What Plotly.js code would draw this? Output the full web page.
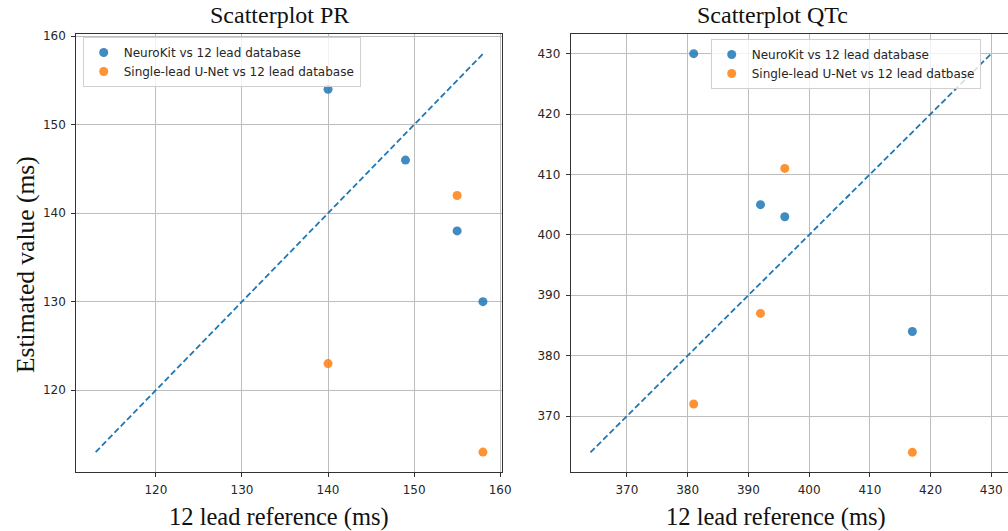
<!DOCTYPE html>
<html>
<head>
<meta charset="utf-8">
<script src="https://cdn.plot.ly/plotly-3.0.1.min.js"></script>
<style>html,body{margin:0;padding:0;background:#fff;}#chart{width:1008px;height:531px;}</style>
</head>
<body>
<div id="chart"></div>
<script>
// ---- Data ----
const prRefNeuro   = [140, 149, 155, 158];
const prNeuro      = [154, 146, 138, 130];
const prRefUnet    = [155, 140, 158];
const prUnet       = [142, 123, 113];

const qtRef        = [381, 392, 396, 417];
const qtNeuro      = [430, 405, 403, 384];
const qtUnet       = [372, 387, 411, 364];

const prTicks = [120, 130, 140, 150, 160];
const qtTicks = [370, 380, 390, 400, 410, 420, 430];

const labelNeuro = "NeuroKit vs 12 lead database";
const labelUnetPR = "Single-lead U-Net vs 12 lead database";
const labelUnetQT = "Single-lead U-Net vs 12 lead datbase";

// identity line spans min..max of all values of each plot
function span(arrs){ const all = [].concat(...arrs); return [Math.min(...all), Math.max(...all)]; }
const prSpan = span([prRefNeuro, prNeuro, prRefUnet, prUnet]);
const qtSpan = span([qtRef, qtNeuro, qtUnet]);

const BLUE = '#1f77b4', ORANGE = '#ff7f0e';
const mk = c => ({color: c, size: 9, opacity: 0.85});

const traces = [
  {x: prSpan, y: prSpan, mode: 'lines', line: {color: BLUE, dash: '6px,3px', width: 1.8}, showlegend: false, xaxis: 'x', yaxis: 'y', hoverinfo: 'skip'},
  {x: prRefNeuro, y: prNeuro, mode: 'markers', marker: mk(BLUE), name: labelNeuro, xaxis: 'x', yaxis: 'y', legend: 'legend'},
  {x: prRefUnet, y: prUnet, mode: 'markers', marker: mk(ORANGE), name: labelUnetPR, xaxis: 'x', yaxis: 'y', legend: 'legend'},
  {x: qtSpan, y: qtSpan, mode: 'lines', line: {color: BLUE, dash: '6px,3px', width: 1.8}, showlegend: false, xaxis: 'x2', yaxis: 'y2', hoverinfo: 'skip'},
  {x: qtRef, y: qtNeuro, mode: 'markers', marker: mk(BLUE), name: labelNeuro, xaxis: 'x2', yaxis: 'y2', legend: 'legend2'},
  {x: qtRef, y: qtUnet, mode: 'markers', marker: mk(ORANGE), name: labelUnetQT, xaxis: 'x2', yaxis: 'y2', legend: 'legend2'}
];

const tickFont = {family: 'DejaVu Sans', size: 12, color: '#262626'};
function ax(extra){
  return Object.assign({
    showgrid: true, gridcolor: '#bdbdbd', gridwidth: 1,
    zeroline: false, showline: true, linecolor: '#333', linewidth: 1,
    ticks: 'outside', ticklen: 4, tickcolor: '#333', tickwidth: 1,
    tickfont: tickFont, ticklabelstandoff: 3, fixedrange: true
  }, extra);
}
const yDom = [59/531, 497/531];

const serifT = {family: 'Liberation Serif, Times New Roman, serif', size: 24, color: '#111'};
const serifX = {family: 'Liberation Serif, Times New Roman, serif', size: 24.5, color: '#111'};
const serifY = {family: 'Liberation Serif, Times New Roman, serif', size: 25.5, color: '#111'};
const legendBase = {
  bgcolor: 'rgba(255,255,255,0.8)', bordercolor: '#d0d0d0', borderwidth: 1,
  font: {family: 'DejaVu Sans', size: 12, color: '#262626'},
  xanchor: 'left', yanchor: 'top', tracegroupgap: 0
};

const layout = {
  width: 1008, height: 531,
  margin: {l: 0, r: 0, t: 0, b: 0, pad: 0},
  paper_bgcolor: '#fff', plot_bgcolor: '#fff',
  xaxis: ax({domain: [76.3/1008, 502.3/1008], range: [110.75, 160.25], tickvals: prTicks, anchor: 'y', mirror: true}),
  yaxis: ax({domain: yDom, range: [110.75, 160.25], tickvals: prTicks, anchor: 'x', mirror: true}),
  xaxis2: ax({domain: [570.7/1008, 1], range: [360.75, 432.75], tickvals: qtTicks, anchor: 'y2', mirror: true}),
  yaxis2: ax({domain: yDom, range: [360.75, 433.25], tickvals: qtTicks, anchor: 'x2', mirror: false}),
  legend: Object.assign({x: 82.7/1008, y: (531-37)/531}, legendBase),
  legend2: Object.assign({x: 710.7/1008, y: (531-39)/531}, legendBase),
  annotations: [
    {text: 'Scatterplot PR', x: 279/1008, y: (531-15)/531, xref: 'paper', yref: 'paper', xanchor: 'center', yanchor: 'middle', showarrow: false, font: serifT},
    {text: 'Scatterplot QTc', x: 772.7/1008, y: (531-15)/531, xref: 'paper', yref: 'paper', xanchor: 'center', yanchor: 'middle', showarrow: false, font: serifT},
    {text: '12 lead reference (ms)', x: 279/1008, y: (531-516.7)/531, xref: 'paper', yref: 'paper', xanchor: 'center', yanchor: 'middle', showarrow: false, font: serifX},
    {text: '12 lead reference (ms)', x: 775.5/1008, y: (531-516.7)/531, xref: 'paper', yref: 'paper', xanchor: 'center', yanchor: 'middle', showarrow: false, font: serifX},
    {text: 'Estimated value (ms)', x: 25/1008, y: (531-265)/531, xref: 'paper', yref: 'paper', xanchor: 'center', yanchor: 'middle', textangle: -90, showarrow: false, font: serifY}
  ],
  showlegend: true
};

Plotly.newPlot('chart', traces, layout, {displayModeBar: false, staticPlot: true});
</script>
</body>
</html>
